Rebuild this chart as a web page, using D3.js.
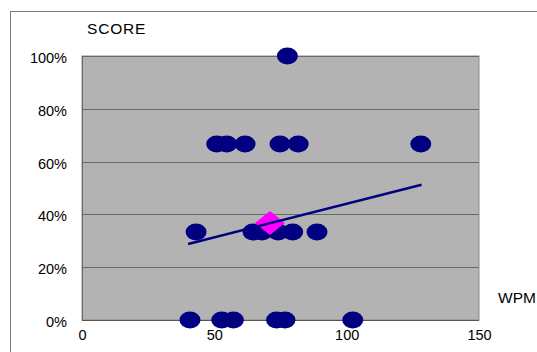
<!DOCTYPE html>
<html><head><meta charset="utf-8">
<script src="https://cdn.jsdelivr.net/npm/d3@7"></script>
<style>html,body{margin:0;padding:0;background:#fff;overflow:hidden}svg{display:block}text{font-family:"Liberation Sans",Arial,sans-serif;fill:#000}</style>
</head><body>
<script>
// Data (WPM, score)
const wpm   = [40.8, 52.8, 57.2, 73.5, 76.7, 102.3,
               43.1, 64.6, 68.0, 74.1, 79.6, 88.8,
               50.9, 54.7, 61.6, 74.8, 81.7, 128.0,
               77.6];
const score = [0, 0, 0, 0, 0, 0,
               0.333, 0.333, 0.333, 0.333, 0.333, 0.333,
               0.667, 0.667, 0.667, 0.667, 0.667, 0.667,
               1.0];
const meanPoint = [71.0, 0.367];
const trendX = [40.1, 128.3];
const trendY = [0.288, 0.512];
const xTicks = [0, 50, 100, 150];
const yTicks = [0, 0.2, 0.4, 0.6, 0.8, 1.0];

const W = 537, H = 352;
const svg = d3.select("body").append("svg").attr("width", W).attr("height", H);

// outer frame
svg.append("rect").attr("x", 10.5).attr("y", 11.5).attr("width", 600).attr("height", 400)
  .attr("fill", "#fff").attr("stroke", "#7a7a7a").attr("stroke-width", 1);

const x = d3.scaleLinear().domain([0, 150]).range([82, 479]);
const y = d3.scaleLinear().domain([0, 1]).range([320, 56]);

// plot area
svg.append("rect").attr("x", x(0)).attr("y", y(1)).attr("width", x(150) - x(0)).attr("height", y(0) - y(1))
  .attr("fill", "#b3b3b3").attr("stroke", "#8a8a8a").attr("stroke-width", 1);

// gridlines
svg.append("g").selectAll("line").data(yTicks).join("line")
  .attr("x1", x(0)).attr("x2", x(150))
  .attr("y1", d => Math.round(y(d)) + 0.5).attr("y2", d => Math.round(y(d)) + 0.5)
  .attr("stroke", "#6a6a6a").attr("stroke-width", 1);

// axes lines
svg.append("line").attr("x1", x(0) + 0.5).attr("x2", x(0) + 0.5).attr("y1", y(1)).attr("y2", y(0))
  .attr("stroke", "#6a6a6a");
svg.append("line").attr("x1", x(0)).attr("x2", x(150)).attr("y1", y(0) + 0.5).attr("y2", y(0) + 0.5)
  .attr("stroke", "#555");

// axis labels via d3 axes
const yAxis = d3.axisLeft(y).tickValues(yTicks).tickFormat(d3.format(".0%")).tickSize(0).tickPadding(15);
const gy = svg.append("g").attr("transform", `translate(${x(0)},0)`).call(yAxis);
gy.select(".domain").remove();
gy.selectAll("text").attr("font-size", 14.5).attr("dy", "0.45em").style("font-family", "'Liberation Sans',Arial,sans-serif").attr("fill", "#000");

const xAxis = d3.axisBottom(x).tickValues(xTicks).tickFormat(d3.format("d")).tickSize(0).tickPadding(10);
const gx = svg.append("g").attr("transform", `translate(0,${y(0)})`).call(xAxis);
gx.select(".domain").remove();
gx.selectAll("text").attr("font-size", 14.5).style("font-family", "'Liberation Sans',Arial,sans-serif").attr("fill", "#000");

svg.append("text").attr("x", 87).attr("y", 34).attr("font-size", 15.5).attr("letter-spacing", 0.8).text("SCORE");
svg.append("text").attr("x", 498).attr("y", 303).attr("font-size", 15.5).text("WPM");

// dots
const pts = wpm.map((v, i) => [v, score[i]]);
svg.append("g").selectAll("ellipse").data(pts).join("ellipse")
  .attr("cx", d => x(d[0])).attr("cy", d => y(d[1]))
  .attr("rx", 10.5).attr("ry", 8.5).attr("fill", "#000080");

// mean diamond
const mx = x(meanPoint[0]), my = y(meanPoint[1]);
svg.append("path").attr("d", `M${mx},${my - 12}L${mx + 15},${my}L${mx},${my + 12}L${mx - 15},${my}Z`)
  .attr("fill", "#ff00ff");
// trend line over diamond
svg.append("line").attr("x1", x(trendX[0])).attr("y1", y(trendY[0]))
  .attr("x2", x(trendX[1])).attr("y2", y(trendY[1]))
  .attr("stroke", "#000080").attr("stroke-width", 2.5);
</script>
</body></html>
